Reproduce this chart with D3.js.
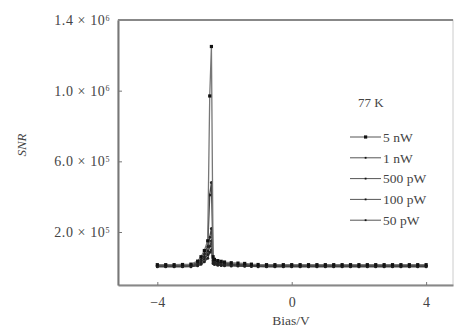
<!DOCTYPE html>
<html>
<head>
<meta charset="utf-8">
<script src="https://cdn.jsdelivr.net/npm/d3@7"></script>
<style>
  body { margin: 0; background: #fff; }
  text { font-family: "Liberation Serif", "DejaVu Serif", serif; fill: #444; }
</style>
</head>
<body>
<svg width="455" height="329"></svg>
<script>
// bias values (V), shared by every series
var bias = [-4, -3.75, -3.5, -3.25, -3, -2.8, -2.7, -2.6, -2.5, -2.44, -2.39, -2.34, -2.3, -2.2, -2.1, -2.0, -1.8, -1.6, -1.4, -1.2, -1, -0.75, -0.5, -0.25, 0, 0.25, 0.5, 0.75, 1, 1.25, 1.5, 1.75, 2, 2.25, 2.5, 2.75, 3, 3.25, 3.5, 3.75, 4];

// SNR for each incident power
var snr5nW   = [15e3, 15e3, 15e3, 16e3, 18e3, 35e3, 60e3, 95e3, 150e3, 970e3, 1250e3, 60e3, 45e3, 38e3, 34e3, 30e3, 26e3, 24e3, 22e3, 18e3, 16e3, 15e3, 15e3, 15e3, 15e3, 15e3, 15e3, 15e3, 15e3, 15e3, 15e3, 15e3, 15e3, 15e3, 15e3, 15e3, 15e3, 15e3, 15e3, 15e3, 15e3];
var snr1nW   = [11e3, 11e3, 11e3, 12e3, 14e3, 28e3, 48e3, 78e3, 118e3, 410e3, 480e3, 48e3, 36e3, 30e3, 27e3, 24e3, 21e3, 19e3, 17e3, 14e3, 12e3, 11e3, 11e3, 11e3, 11e3, 11e3, 11e3, 11e3, 11e3, 11e3, 11e3, 11e3, 11e3, 11e3, 11e3, 11e3, 11e3, 11e3, 11e3, 11e3, 11e3];
var snr500pW = [8e3, 8e3, 8e3, 8e3, 10e3, 20e3, 38e3, 62e3, 92e3, 170e3, 220e3, 38e3, 28e3, 23e3, 20e3, 18e3, 16e3, 14e3, 12e3, 10e3, 9e3, 8e3, 8e3, 8e3, 8e3, 8e3, 8e3, 8e3, 8e3, 8e3, 8e3, 8e3, 8e3, 8e3, 8e3, 8e3, 8e3, 8e3, 8e3, 8e3, 8e3];
var snr100pW = [5e3, 5e3, 5e3, 5e3, 7e3, 14e3, 27e3, 47e3, 72e3, 120e3, 150e3, 30e3, 22e3, 17e3, 15e3, 13e3, 11e3, 10e3, 9e3, 7e3, 6e3, 5e3, 5e3, 5e3, 5e3, 5e3, 5e3, 5e3, 5e3, 5e3, 5e3, 5e3, 5e3, 5e3, 5e3, 5e3, 5e3, 5e3, 5e3, 5e3, 5e3];
var snr50pW  = [3e3, 3e3, 3e3, 3e3, 4e3, 9e3, 17e3, 32e3, 52e3, 85e3, 100e3, 22e3, 16e3, 12e3, 10e3, 9e3, 8e3, 7e3, 6e3, 5e3, 4e3, 3e3, 3e3, 3e3, 3e3, 3e3, 3e3, 3e3, 3e3, 3e3, 3e3, 3e3, 3e3, 3e3, 3e3, 3e3, 3e3, 3e3, 3e3, 3e3, 3e3];

var seriesNames = ["5 nW", "1 nW", "500 pW", "100 pW", "50 pW"];
var seriesValues = [snr5nW, snr1nW, snr500pW, snr100pW, snr50pW];

var xTicks = [-4, 0, 4];
var yTicks = [2e5, 6e5, 1e6, 1.4e6];
var yTickLabels = [["2.0", "5"], ["6.0", "5"], ["1.0", "6"], ["1.4", "6"]];

var svg = d3.select("svg"),
    plotL = 118, plotR = 453, plotT = 20, plotB = 285;

var x = d3.scaleLinear().domain([-5.17, 4.8]).range([plotL, plotR]);
var y = d3.scaleLinear().domain([-1e5, 1.4e6]).range([plotB, plotT]);

// frame
svg.append("rect")
    .attr("x", plotL).attr("y", plotT)
    .attr("width", plotR - plotL).attr("height", plotB - plotT)
    .attr("fill", "none").attr("stroke", "#ccc").attr("stroke-width", 1);

// x axis (ticks point inward)
var xAxis = svg.append("g")
    .attr("transform", "translate(0," + plotB + ")")
    .call(d3.axisBottom(x).tickValues(xTicks).tickSizeInner(-3).tickSizeOuter(0)
      .tickFormat(function(d) { return d < 0 ? "\u2212" + Math.abs(d) : d; }));
xAxis.select(".domain").attr("stroke", "#888").attr("stroke-width", 2);
xAxis.selectAll(".tick line").attr("stroke", "#777");
xAxis.selectAll(".tick text").attr("font-size", 14).attr("dy", "1.35em").attr("fill", "#444");

// y axis
var yAxis = svg.append("g")
    .attr("transform", "translate(" + plotL + ",0)")
    .call(d3.axisLeft(y).tickValues(yTicks).tickSizeInner(-4).tickSizeOuter(0).tickFormat(""));
yAxis.select(".domain").attr("stroke", "#777").attr("stroke-width", 2);
yAxis.selectAll(".tick line").attr("stroke", "#777");
yAxis.selectAll(".tick").each(function(d, i) {
  var t = d3.select(this).append("text")
      .attr("x", -8).attr("dy", "0.32em")
      .attr("text-anchor", "end").attr("font-size", 14)
      .attr("letter-spacing", 0.6).attr("fill", "#555");
  t.append("tspan").text(yTickLabels[i][0] + " \u00d7 10");
  t.append("tspan").attr("dy", "-0.55em").attr("font-size", 8).text(yTickLabels[i][1]);
});

// top border line
svg.append("line")
    .attr("x1", plotL).attr("x2", plotR).attr("y1", plotT).attr("y2", plotT)
    .attr("stroke", "#888").attr("stroke-width", 2);

var line = d3.line()
    .x(function(d) { return x(d[0]); })
    .y(function(d) { return y(d[1]); });

// draw series from smallest to largest
seriesValues.slice().reverse().forEach(function(vals, ri) {
  var k = seriesValues.length - 1 - ri;
  var pts = bias.map(function(b, i) { return [b, vals[i]]; });
  var g = svg.append("g");
  g.append("path")
      .datum(pts)
      .attr("d", line)
      .attr("fill", "none")
      .attr("stroke", k === 0 ? "#777" : "#444")
      .attr("stroke-width", 1.3);
  if (k === 0) {
    g.selectAll("rect").data(pts).enter().append("rect")
        .attr("x", function(d) { return x(d[0]) - 1.6; })
        .attr("y", function(d) { return y(d[1]) - 1.6; })
        .attr("width", 3.2).attr("height", 3.2)
        .attr("fill", "#111");
  } else {
    g.selectAll("circle").data(pts).enter().append("circle")
        .attr("cx", function(d) { return x(d[0]); })
        .attr("cy", function(d) { return y(d[1]); })
        .attr("r", 1.5)
        .attr("fill", "#222");
  }
});

// temperature label
svg.append("text")
    .attr("x", 358).attr("y", 107)
    .attr("font-size", 13).attr("fill", "#444")
    .text("77 K");

// legend
var legend = svg.append("g")
  .selectAll("g")
  .data(seriesNames)
  .enter().append("g")
    .attr("transform", function(d, i) { return "translate(350," + (137 + i * 20.8) + ")"; });

legend.append("line")
    .attr("x1", 0).attr("x2", 31)
    .attr("stroke", "#555").attr("stroke-width", 1);

legend.append("rect")
    .attr("x", function(d, i) { return i === 0 ? 14 : 14.7; })
    .attr("y", function(d, i) { return i === 0 ? -1.6 : -0.9; })
    .attr("width", function(d, i) { return i === 0 ? 3.2 : 1.8; })
    .attr("height", function(d, i) { return i === 0 ? 3.2 : 1.8; })
    .attr("fill", "#111");

legend.append("text")
    .attr("x", 33)
    .attr("dy", "0.35em")
    .attr("font-size", 13.5)
    .attr("fill", "#444")
    .text(function(d) { return d; });

// axis titles
svg.append("text")
    .attr("transform", "translate(26,145) rotate(-90)")
    .attr("text-anchor", "middle")
    .attr("font-size", 13)
    .attr("font-style", "italic")
    .text("SNR");

svg.append("text")
    .attr("x", 291).attr("y", 325)
    .attr("text-anchor", "middle")
    .attr("font-size", 13.5)
    .text("Bias/V");
</script>
</body>
</html>
